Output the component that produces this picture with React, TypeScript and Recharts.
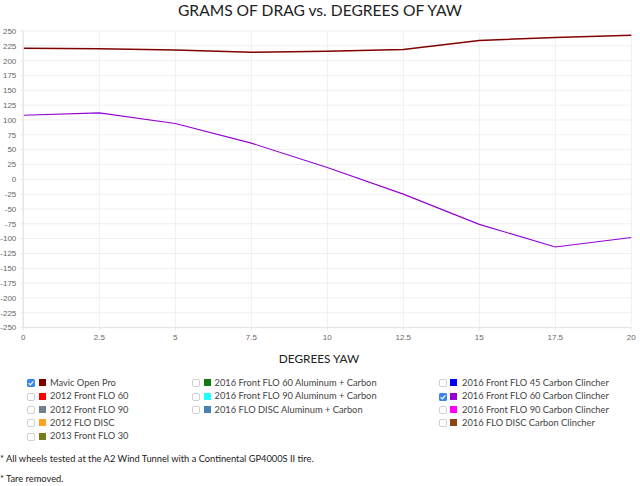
import React from "react";
import { LineChart, Line, XAxis, YAxis, CartesianGrid } from "recharts";

const yaw = [0, 2.5, 5, 7.5, 10, 12.5, 15, 17.5, 20];
const mavicOpenPro = [221, 220, 218, 214, 216, 219, 234, 239, 243];
const flo60CarbonClincher = [108, 112, 94, 61, 20, -25, -76, -114, -98];

const xTicks = [0, 2.5, 5, 7.5, 10, 12.5, 15, 17.5, 20];
const yTicks = [-250, -225, -200, -175, -150, -125, -100, -75, -50, -25, 0, 25, 50, 75, 100, 125, 150, 175, 200, 225, 250];

const legendLabels = [
  ["Mavic Open Pro", "2012 Front FLO 60", "2012 Front FLO 90", "2012 FLO DISC", "2013 Front FLO 30"],
  ["2016 Front FLO 60 Aluminum + Carbon", "2016 Front FLO 90 Aluminum + Carbon", "2016 FLO DISC Aluminum + Carbon"],
  ["2016 Front FLO 45 Carbon Clincher", "2016 Front FLO 60 Carbon Clincher", "2016 Front FLO 90 Carbon Clincher", "2016 FLO DISC Carbon Clincher"],
];
const legendColors = [
  ["#800000", "#ff0000", "#708090", "#ffa020", "#7a7a1a"],
  ["#117a11", "#22ffff", "#4682b4"],
  ["#0000ff", "#9400d3", "#ff00ff", "#8b4513"],
];
const legendChecked = [
  [true, false, false, false, false],
  [false, false, false],
  [false, true, false, false],
];

const data = yaw.map((x, i) => ({ x, mavic: mavicOpenPro[i], flo60: flo60CarbonClincher[i] }));

const colX = [
  { box: 27, sq: 39, text: 50 },
  { box: 192, sq: 203.5, text: 214.5 },
  { box: 438.5, sq: 450, text: 462 },
];
const rowY0 = 382.7;
const rowStep = 13.4;

function CheckBox({ checked }: { checked: boolean }) {
  if (checked) {
    return (
      <svg width="8" height="8" viewBox="0 0 8 8" style={{ display: "block" }}>
        <rect x="0" y="0" width="8" height="8" rx="1.5" fill="#3a86f0" />
        <path d="M1.7 4.2 L3.3 5.8 L6.4 2.3" stroke="#fff" strokeWidth="1.2" fill="none" />
      </svg>
    );
  }
  return (
    <svg width="8" height="8" viewBox="0 0 8 8" style={{ display: "block" }}>
      <rect x="0.5" y="0.5" width="7" height="7" rx="1.5" fill="#fff" stroke="#c4c4c4" strokeWidth="0.8" />
    </svg>
  );
}

export default function App() {
  const tickStyle = { fontFamily: "'Liberation Sans', Arial, sans-serif", fontSize: 8, fill: "#666" };
  return (
    <div
      style={{
        position: "absolute",
        left: 0,
        top: 0,
        width: 640,
        height: 486,
        background: "#fff",
        fontFamily: "Lato, 'Open Sans', sans-serif",
        overflow: "hidden",
      }}
    >
      <div
        style={{
          position: "absolute",
          left: 0,
          width: 640,
          top: 0,
          textAlign: "center",
          fontSize: 15.6,
          color: "#222",
          lineHeight: "20px",
        }}
      >
        GRAMS OF DRAG vs. DEGREES OF YAW
      </div>
      <div style={{ position: "absolute", left: 0, top: 0 }}>
        <LineChart width={640} height={345} data={data} margin={{ top: 31, right: 8.7, bottom: 0, left: 0 }}>
          <CartesianGrid stroke="#efefef" strokeWidth={1} />
          <XAxis
            dataKey="x"
            type="number"
            domain={[0, 20]}
            ticks={xTicks}
            height={17.4}
            tick={tickStyle}
            tickSize={3}
            tickMargin={4}
            axisLine={{ stroke: "#e2e2e2" }}
            tickLine={{ stroke: "#e8e8e8" }}
            interval={0}
          />
          <YAxis
            type="number"
            domain={[-250, 250]}
            ticks={yTicks}
            width={23.3}
            tick={tickStyle}
            tickSize={3}
            tickMargin={4}
            axisLine={{ stroke: "#e2e2e2" }}
            tickLine={{ stroke: "#e8e8e8" }}
            interval={0}
          />
          <Line
            dataKey="mavic"
            stroke="#800000"
            strokeWidth={1.5}
            dot={false}
            isAnimationActive={false}
            type="linear"
          />
          <Line
            dataKey="flo60"
            stroke="#9400d3"
            strokeWidth={1.1}
            dot={false}
            isAnimationActive={false}
            type="linear"
          />
        </LineChart>
      </div>
      <div
        style={{
          position: "absolute",
          left: 0,
          width: 638,
          top: 351,
          textAlign: "center",
          fontSize: 11.8,
          color: "#222",
          lineHeight: "16px",
        }}
      >
        DEGREES YAW
      </div>
      {legendLabels.map((col, c) =>
        col.map((label, r) => {
          const cy = rowY0 + r * rowStep;
          return (
            <React.Fragment key={`${c}-${r}`}>
              <div style={{ position: "absolute", left: colX[c].box, top: cy - 3.5 }}>
                <CheckBox checked={legendChecked[c][r]} />
              </div>
              <div
                style={{
                  position: "absolute",
                  left: colX[c].sq,
                  top: cy - 3.5,
                  width: 7,
                  height: 7,
                  background: legendColors[c][r],
                }}
              />
              <div
                style={{
                  position: "absolute",
                  left: colX[c].text,
                  top: cy - 7,
                  fontSize: 9.3,
                  lineHeight: "14px",
                  color: "#444",
                  whiteSpace: "nowrap",
                }}
              >
                {label}
              </div>
            </React.Fragment>
          );
        })
      )}
      <div
        style={{
          position: "absolute",
          left: 0,
          top: 453,
          fontSize: 9.3,
          lineHeight: "12px",
          color: "#222",
          whiteSpace: "nowrap",
        }}
      >
        * All wheels tested at the A2 Wind Tunnel with a Continental GP4000S II tire.
      </div>
      <div
        style={{
          position: "absolute",
          left: 0,
          top: 473,
          fontSize: 9.3,
          lineHeight: "12px",
          color: "#222",
          whiteSpace: "nowrap",
        }}
      >
        * Tare removed.
      </div>
    </div>
  );
}
